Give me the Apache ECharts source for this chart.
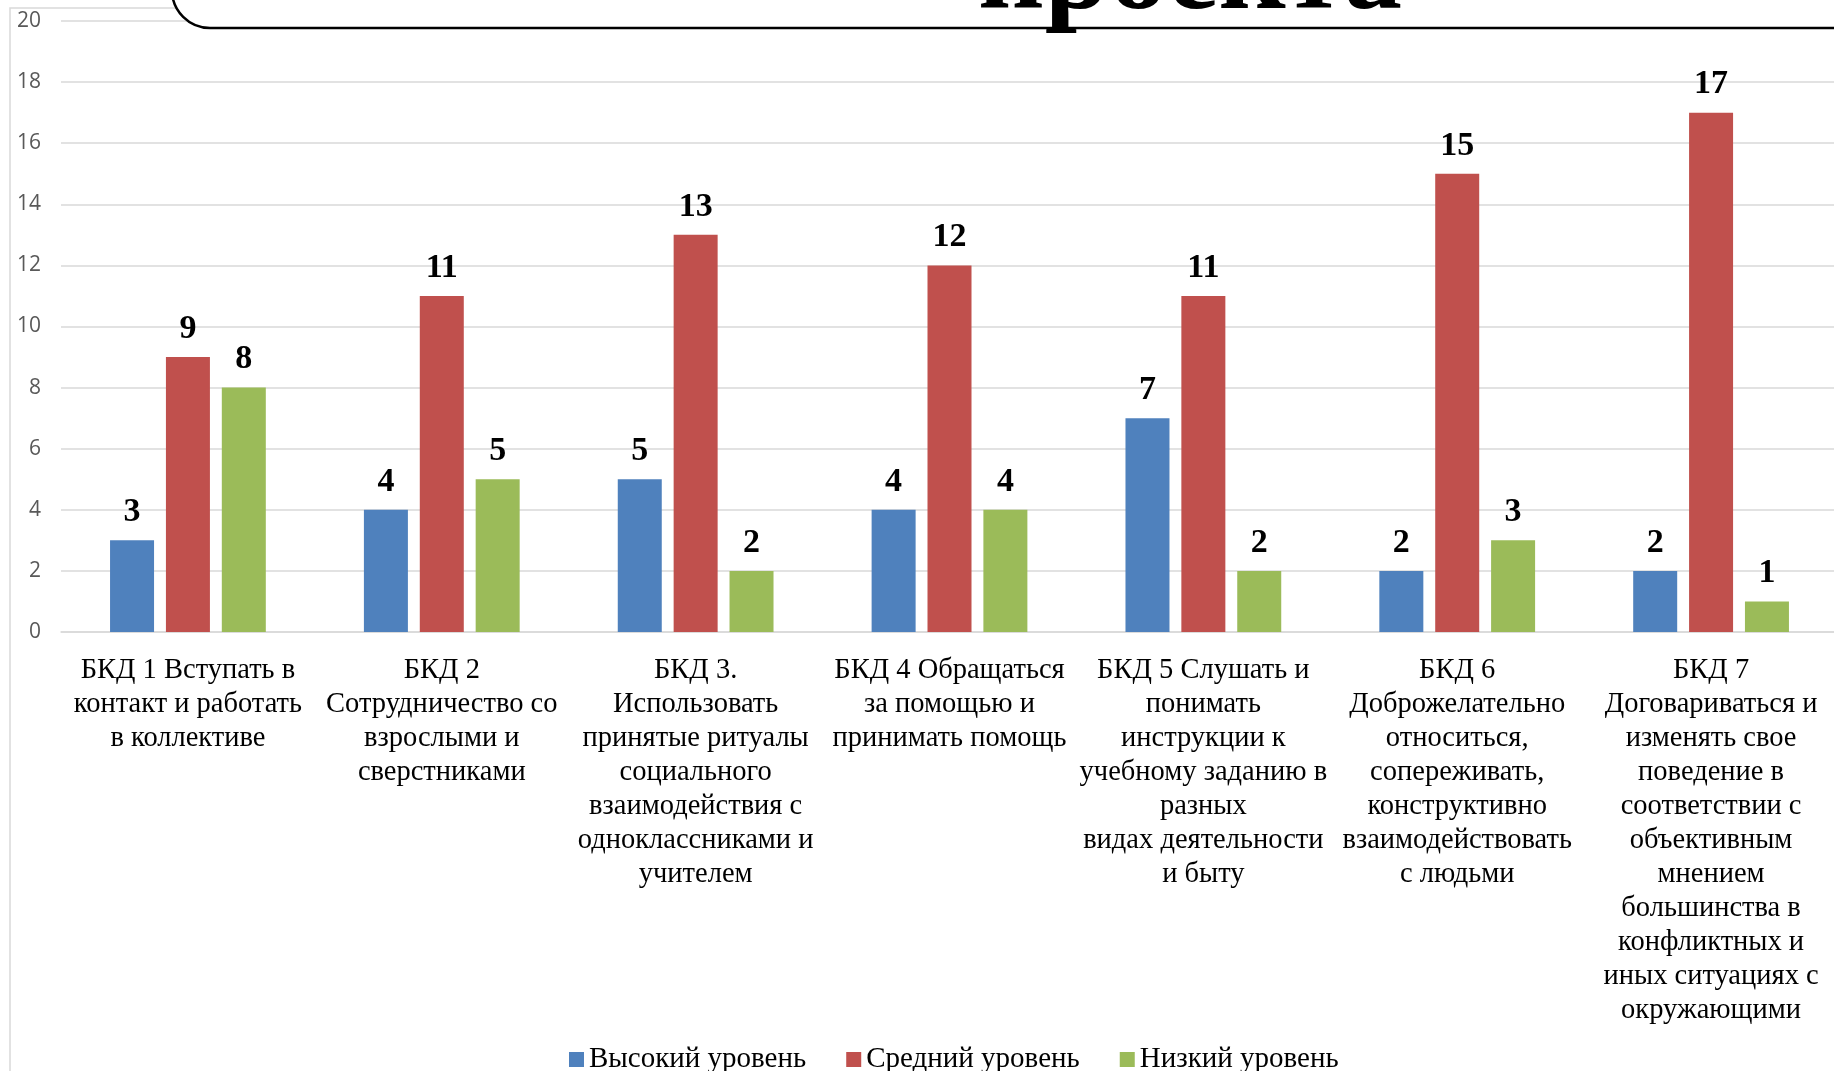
<!DOCTYPE html>
<html>
<head>
<meta charset="utf-8">
<script src="https://cdn.jsdelivr.net/npm/echarts@6/dist/echarts.min.js"></script>
<style>
html,body{margin:0;padding:0;background:#fff;overflow:hidden;}
#c{width:1850px;height:1071px;}
</style>
</head>
<body>
<div id="c"></div>
<script>
const categories = [
  "БКД 1 Вступать в\nконтакт и работать\nв коллективе",
  "БКД 2\nСотрудничество со\nвзрослыми и\nсверстниками",
  "БКД 3.\nИспользовать\nпринятые ритуалы\nсоциального\nвзаимодействия с\nодноклассниками и\nучителем",
  "БКД 4 Обращаться\nза помощью и\nпринимать помощь",
  "БКД 5 Слушать и\nпонимать\nинструкции к\nучебному заданию в\nразных\nвидах деятельности\nи быту",
  "БКД 6\nДоброжелательно\nотноситься,\nсопереживать,\nконструктивно\nвзаимодействовать\nс людьми",
  "БКД 7\nДоговариваться и\nизменять свое\nповедение в\nсоответствии с\nобъективным\nмнением\nбольшинства в\nконфликтных и\nиных ситуациях с\nокружающими"
];
const seriesNames = ["Высокий уровень", "Средний уровень", "Низкий уровень"];
const highLevel = [3, 4, 5, 4, 7, 2, 2];
const midLevel = [9, 11, 13, 12, 11, 15, 17];
const lowLevel = [8, 5, 2, 4, 2, 3, 1];
const colors = ["#4F81BD", "#C0504D", "#9BBB59"];
const titleFragment = "проекта";

const serif = '"Liberation Serif", "Times New Roman", serif';
const chart = echarts.init(document.getElementById('c'), null, {renderer: 'canvas'});

function barSeries(name, data, color) {
  return {
    name: name,
    type: 'bar',
    data: data,
    barWidth: 44,
    barGap: '27%',
    itemStyle: {color: color},
    label: {
      show: true,
      position: 'top',
      distance: 11,
      fontFamily: serif,
      fontWeight: 'bold',
      fontSize: 34,
      color: '#000'
    }
  };
}

chart.setOption({
  animation: false,
  backgroundColor: '#fff',
  color: colors,
  grid: {left: 61, right: 12, top: 21, bottom: 439, containLabel: false},
  legend: {
    left: 564,
    top: 1040,
    itemWidth: 15,
    itemHeight: 15,
    itemGap: 40,
    icon: 'rect',
    textStyle: {fontFamily: serif, fontSize: 29, color: '#000'},
    data: seriesNames
  },
  xAxis: {
    type: 'category',
    data: categories,
    axisLine: {lineStyle: {color: '#D9D9D9', width: 1.5}},
    axisTick: {show: false},
    axisLabel: {
      interval: 0,
      margin: 22,
      fontFamily: serif,
      fontSize: 28.5,
      lineHeight: 34,
      color: '#000',
      align: 'center',
      verticalAlign: 'top'
    }
  },
  yAxis: {
    type: 'value',
    min: 0,
    max: 20,
    interval: 2,
    axisLine: {show: false},
    axisTick: {show: false},
    axisLabel: {
      margin: 20,
      fontFamily: '"Open Sans", sans-serif',
      fontSize: 21,
      color: '#595959'
    },
    splitLine: {lineStyle: {color: '#D9D9D9', width: 1.5}}
  },
  series: [
    barSeries(seriesNames[0], highLevel, colors[0]),
    barSeries(seriesNames[1], midLevel, colors[1]),
    barSeries(seriesNames[2], lowLevel, colors[2])
  ],
  graphic: [
    {
      type: 'rect',
      z: -10,
      silent: true,
      shape: {x: 10, y: 8, width: 3000, height: 3000},
      style: {fill: 'none', stroke: '#D9D9D9', lineWidth: 1.5}
    },
    {
      type: 'rect',
      z: 100,
      silent: true,
      shape: {x: 172, y: -300, width: 3000, height: 328, r: 38},
      style: {fill: '#fff', stroke: '#000', lineWidth: 2.5}
    },
    {
      type: 'text',
      z: 101,
      silent: true,
      x: 1190,
      y: -22,
      style: {
        text: titleFragment,
        font: 'bold 116px ' + serif,
        fill: '#000',
        textAlign: 'center',
        textVerticalAlign: 'middle'
      }
    }
  ]
});
</script>
</body>
</html>
